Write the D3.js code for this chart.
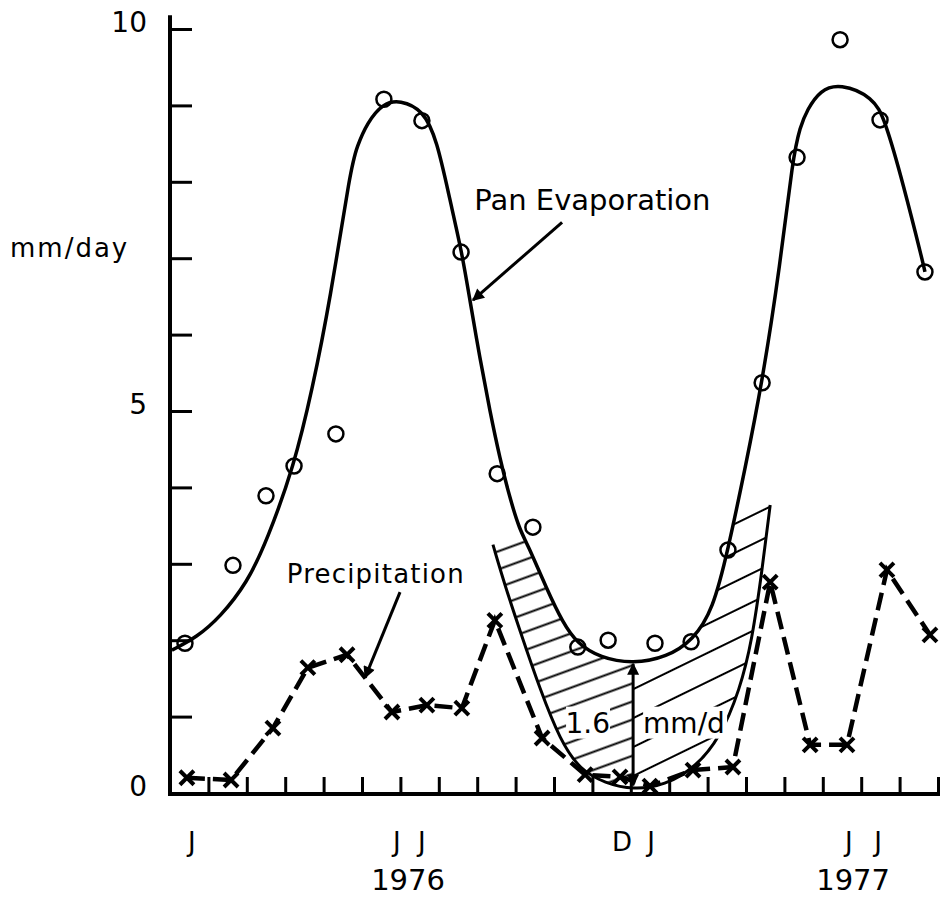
<!DOCTYPE html>
<html>
<head>
<meta charset="utf-8">
<script src="https://cdn.jsdelivr.net/npm/d3@7"></script>
<style>
  body { margin: 0; background: #fff; }
  text { font-family: "DejaVu Sans", sans-serif; fill: #000; }
</style>
</head>
<body>
<div id="chart"></div>
<script>
// x values are months counted from 1 Jan 1976, y values are mm/day

// observed pan evaporation (circles)
var evapMonth = [0.39, 1.64, 2.5, 3.23, 4.32, 5.57, 6.56, 7.58, 8.52, 9.45,
                 10.62, 11.41, 12.63, 13.57, 14.53, 15.42, 16.33, 17.45, 18.49, 19.66];
var evapValue = [1.96, 2.98, 3.89, 4.28, 4.70, 9.08, 8.80, 7.08, 4.18, 3.48,
                 1.91, 2.00, 1.96, 1.98, 3.18, 5.37, 8.32, 9.86, 8.81, 6.82];

// fitted pan evaporation curve
var curveMonth = [0.05, 0.70, 1.30, 2.01, 2.53, 3.23, 3.70, 4.17, 4.71, 4.87, 5.13, 5.55, 5.99,
                  6.59, 6.95, 7.29, 7.60, 7.81, 8.07, 8.33, 8.59, 8.85, 9.11, 9.30, 9.82,
                  10.23, 10.60, 11.20, 12.06, 12.94, 13.62, 14.14, 14.53, 14.97, 15.42, 15.89,
                  16.22, 16.41, 16.59, 16.93, 17.45, 18.31, 18.62, 19.09, 19.61, 19.66];
var curveValue = [1.87, 2.04, 2.30, 2.75, 3.31, 4.28, 5.27, 6.45, 8.19, 8.46, 8.77, 9.03, 9.07,
                  8.94, 8.55, 7.76, 7.08, 6.45, 5.69, 5.00, 4.38, 3.86, 3.44, 3.27, 2.66,
                  2.23, 1.96, 1.77, 1.69, 1.78, 2.00, 2.40, 3.18, 4.23, 5.37, 6.91,
                  8.32, 8.72, 8.94, 9.20, 9.29, 9.11, 8.81, 7.98, 6.94, 6.82];

// lower edge of the hatched band
var lowerMonth = [8.41, 8.72, 9.11, 9.64, 10.16, 10.68, 11.33, 12.06, 12.89, 13.67, 14.32, 14.84, 15.16, 15.42, 15.63];
var lowerValue = [3.25, 2.72, 2.13, 1.35, 0.69, 0.30, 0.13, 0.04, 0.10, 0.33, 0.72, 1.35, 2.00, 2.92, 3.77];

// precipitation (crosses)
var precipMonth = [0.44, 1.59, 2.68, 3.59, 4.61, 5.78, 6.69, 7.6, 8.46, 9.69,
                   10.81, 11.72, 12.5, 13.62, 14.66, 15.63, 16.67, 17.63, 18.67, 19.79];
var precipValue = [0.20, 0.17, 0.85, 1.64, 1.81, 1.06, 1.15, 1.11, 2.26, 0.72,
                   0.24, 0.21, 0.09, 0.30, 0.34, 2.76, 0.63, 0.63, 2.92, 2.07];

// axis labels
var yTicks = [0, 1, 2, 3, 4, 5, 6, 7, 8, 9, 10];
var yLabels = [0, 5, 10];
var monthLetters = ["J", "J", "J", "D", "J", "J", "J"];
var letterMonth = [0.57, 5.91, 6.56, 11.77, 12.53, 17.68, 18.44];
var years = ["1976", "1977"];
var yearMonth = [6.2, 17.79];

var width = 940, height = 901;

var svg = d3.select("#chart")
    .append("svg")
    .attr("width", width)
    .attr("height", height);

var x = d3.scaleLinear().domain([0, 20]).range([170, 938]);
var y = d3.scaleLinear().domain([0, 10]).range([793, 29]);

var defs = svg.append("defs");

// arrow heads
defs.append("marker")
    .attr("id", "arrow")
    .attr("viewBox", "0 0 10 10")
    .attr("refX", 9).attr("refY", 5)
    .attr("markerUnits", "userSpaceOnUse")
    .attr("markerWidth", 16).attr("markerHeight", 12)
    .attr("orient", "auto-start-reverse")
    .append("path")
    .attr("d", "M0,0 L10,5 L0,10 Z")
    .attr("fill", "#000");

// hatching: dense on the left half, sparse on the right half
function hatch(id, gap, angle) {
    var p = defs.append("pattern")
        .attr("id", id)
        .attr("patternUnits", "userSpaceOnUse")
        .attr("width", 40).attr("height", gap)
        .attr("patternTransform", "rotate(" + angle + ")");
    p.append("line")
        .attr("x1", 0).attr("x2", 40)
        .attr("y1", gap / 2).attr("y2", gap / 2)
        .attr("stroke", "#000").attr("stroke-width", 2.2);
}
hatch("hatchL", 17, -20);
hatch("hatchR", 26, -26);

var curvePts = curveMonth.map(function (m, i) { return [m, curveValue[i]]; });
var lowerPts = lowerMonth.map(function (m, i) { return [m, lowerValue[i]]; });

var smooth = d3.curveBasis;

defs.append("clipPath").attr("id", "belowPan")
    .append("path")
    .attr("d", d3.area().curve(smooth)
        .x(function (d) { return x(d[0]); })
        .y0(y(-1))
        .y1(function (d) { return y(d[1]); })(curvePts));

defs.append("clipPath").attr("id", "aboveLower")
    .append("path")
    .attr("d", d3.area().curve(smooth)
        .x(function (d) { return x(d[0]); })
        .y0(y(11))
        .y1(function (d) { return y(d[1]); })(lowerPts));

var first = lowerPts[0], last = lowerPts[lowerPts.length - 1];
defs.append("clipPath").attr("id", "cut")
    .append("path")
    .attr("d", d3.line()
        .x(function (d) { return x(d[0]); })
        .y(function (d) { return y(d[1]); })(
            [first, last, [last[0], -1], [first[0], -1]]) + "Z");

/*********************
 * HATCHED BAND
*********************/
var minMonth = 12.06, minValue = 1.69;
var band = svg.append("g").attr("clip-path", "url(#belowPan)")
    .append("g").attr("clip-path", "url(#aboveLower)")
    .append("g").attr("clip-path", "url(#cut)");
band.append("rect")
    .attr("x", x(first[0]) - 5).attr("y", y(5))
    .attr("width", x(minMonth) - x(first[0]) + 5)
    .attr("height", y(-1) - y(5))
    .attr("fill", "url(#hatchL)");
band.append("rect")
    .attr("x", x(minMonth)).attr("y", y(5))
    .attr("width", x(last[0]) - x(minMonth) + 5)
    .attr("height", y(-1) - y(5))
    .attr("fill", "url(#hatchR)");

svg.append("path")
    .attr("d", d3.line().curve(smooth)
        .x(function (d) { return x(d[0]); })
        .y(function (d) { return y(d[1]); })(lowerPts))
    .attr("fill", "none")
    .attr("stroke", "#000")
    .attr("stroke-width", 3);

/*********************
 * AXES
*********************/
var yAxis = svg.append("g")
    .attr("transform", "translate(" + x(0) + ",0)")
    .call(d3.axisRight(y).tickValues(yTicks).tickSize(22).tickSizeOuter(0).tickFormat(""));
yAxis.selectAll("line").attr("stroke-width", 3);
yAxis.select(".domain").remove();
svg.append("line")
    .attr("x1", x(0)).attr("x2", x(0))
    .attr("y1", y(10.18)).attr("y2", y(0) + 3)
    .attr("stroke", "#000").attr("stroke-width", 4);

var xAxis = svg.append("g")
    .attr("transform", "translate(0," + y(0) + ")")
    .call(d3.axisTop(x).tickValues(d3.range(1, 21)).tickSize(16).tickSizeOuter(0).tickFormat(""));
xAxis.selectAll("line").attr("stroke-width", 3);
xAxis.select(".domain").remove();
svg.append("line")
    .attr("x1", x(0) - 2).attr("x2", x(20) + 2)
    .attr("y1", y(0) + 1).attr("y2", y(0) + 1)
    .attr("stroke", "#000").attr("stroke-width", 4);

svg.selectAll(".ylab")
    .data(yLabels)
    .enter()
    .append("text")
    .attr("x", 147)
    .attr("y", function (d) { return y(d) + 3; })
    .attr("text-anchor", "end")
    .style("font-size", "28px")
    .text(function (d) { return d; });

svg.append("text")
    .attr("x", 10)
    .attr("y", 257)
    .style("font-size", "26px")
    .style("letter-spacing", "2px")
    .text("mm/day");

svg.selectAll(".mlab")
    .data(monthLetters)
    .enter()
    .append("text")
    .attr("x", function (d, i) { return x(letterMonth[i]); })
    .attr("y", 851)
    .attr("text-anchor", "middle")
    .style("font-size", "26px")
    .text(function (d) { return d; });

svg.selectAll(".year")
    .data(years)
    .enter()
    .append("text")
    .attr("x", function (d, i) { return x(yearMonth[i]); })
    .attr("y", 890)
    .attr("text-anchor", "middle")
    .style("font-size", "29px")
    .text(function (d) { return d; });

/*********************
 * PAN EVAPORATION
*********************/
svg.append("path")
    .attr("d", d3.line().curve(smooth)
        .x(function (d) { return x(d[0]); })
        .y(function (d) { return y(d[1]); })(curvePts))
    .attr("fill", "none")
    .attr("stroke", "#000")
    .attr("stroke-width", 3.5);

svg.append("g")
    .selectAll("circle")
    .data(evapValue)
    .enter()
    .append("circle")
    .attr("cx", function (d, i) { return x(evapMonth[i]); })
    .attr("cy", function (d) { return y(d); })
    .attr("r", 7.5)
    .attr("fill", "none")
    .attr("stroke", "#000")
    .attr("stroke-width", 2.5);

/*********************
 * PRECIPITATION
*********************/
var precipPts = precipMonth.map(function (m, i) { return [m, precipValue[i]]; });
svg.append("path")
    .attr("d", d3.line()
        .x(function (d) { return x(d[0]); })
        .y(function (d) { return y(d[1]); })(precipPts))
    .attr("fill", "none")
    .attr("stroke", "#000")
    .attr("stroke-width", 4.5)
    .attr("stroke-dasharray", "18,8");

var cross = svg.append("g")
    .selectAll("g")
    .data(precipPts)
    .enter()
    .append("g")
    .attr("transform", function (d) { return "translate(" + x(d[0]) + "," + y(d[1]) + ")"; });
cross.append("path")
    .attr("d", "M-7,-7L7,7M-7,7L7,-7")
    .attr("stroke", "#000")
    .attr("stroke-width", 4);

/*********************
 * ANNOTATIONS
*********************/
function arrow(a, b, w) {
    svg.append("line")
        .attr("x1", x(a[0])).attr("y1", y(a[1]))
        .attr("x2", x(b[0])).attr("y2", y(b[1]))
        .attr("stroke", "#000")
        .attr("stroke-width", w)
        .attr("marker-end", "url(#arrow)");
}

svg.append("text")
    .attr("x", x(11.0)).attr("y", y(7.63))
    .attr("text-anchor", "middle")
    .style("font-size", "29px")
    .text("Pan Evaporation");
arrow([10.21, 7.47], [7.89, 6.45], 3);

svg.append("text")
    .attr("x", x(5.36)).attr("y", y(2.75))
    .attr("text-anchor", "middle")
    .style("font-size", "26px")
    .style("letter-spacing", "1.2px")
    .text("Precipitation");
arrow([5.99, 2.63], [5.08, 1.51], 3);

// 1.6 mm/d gap between the curve minimum and the lower edge
svg.append("line")
    .attr("x1", x(minMonth)).attr("x2", x(minMonth))
    .attr("y1", y(minValue)).attr("y2", y(0.1))
    .attr("stroke", "#000")
    .attr("stroke-width", 3)
    .attr("marker-start", "url(#arrow)")
    .attr("marker-end", "url(#arrow)");

var gapLabel = svg.append("g");
gapLabel.append("rect")
    .attr("x", x(11.46) - 44).attr("y", y(0.79) - 26)
    .attr("width", 44).attr("height", 32)
    .attr("fill", "#fff");
gapLabel.append("rect")
    .attr("x", x(12.32)).attr("y", y(0.79) - 26)
    .attr("width", 84).attr("height", 32)
    .attr("fill", "#fff");
gapLabel.append("text")
    .attr("x", x(11.46)).attr("y", y(0.79))
    .attr("text-anchor", "end")
    .style("font-size", "28px")
    .text("1.6");
gapLabel.append("text")
    .attr("x", x(12.32)).attr("y", y(0.79))
    .style("font-size", "28px")
    .text("mm/d");
</script>
</body>
</html>
